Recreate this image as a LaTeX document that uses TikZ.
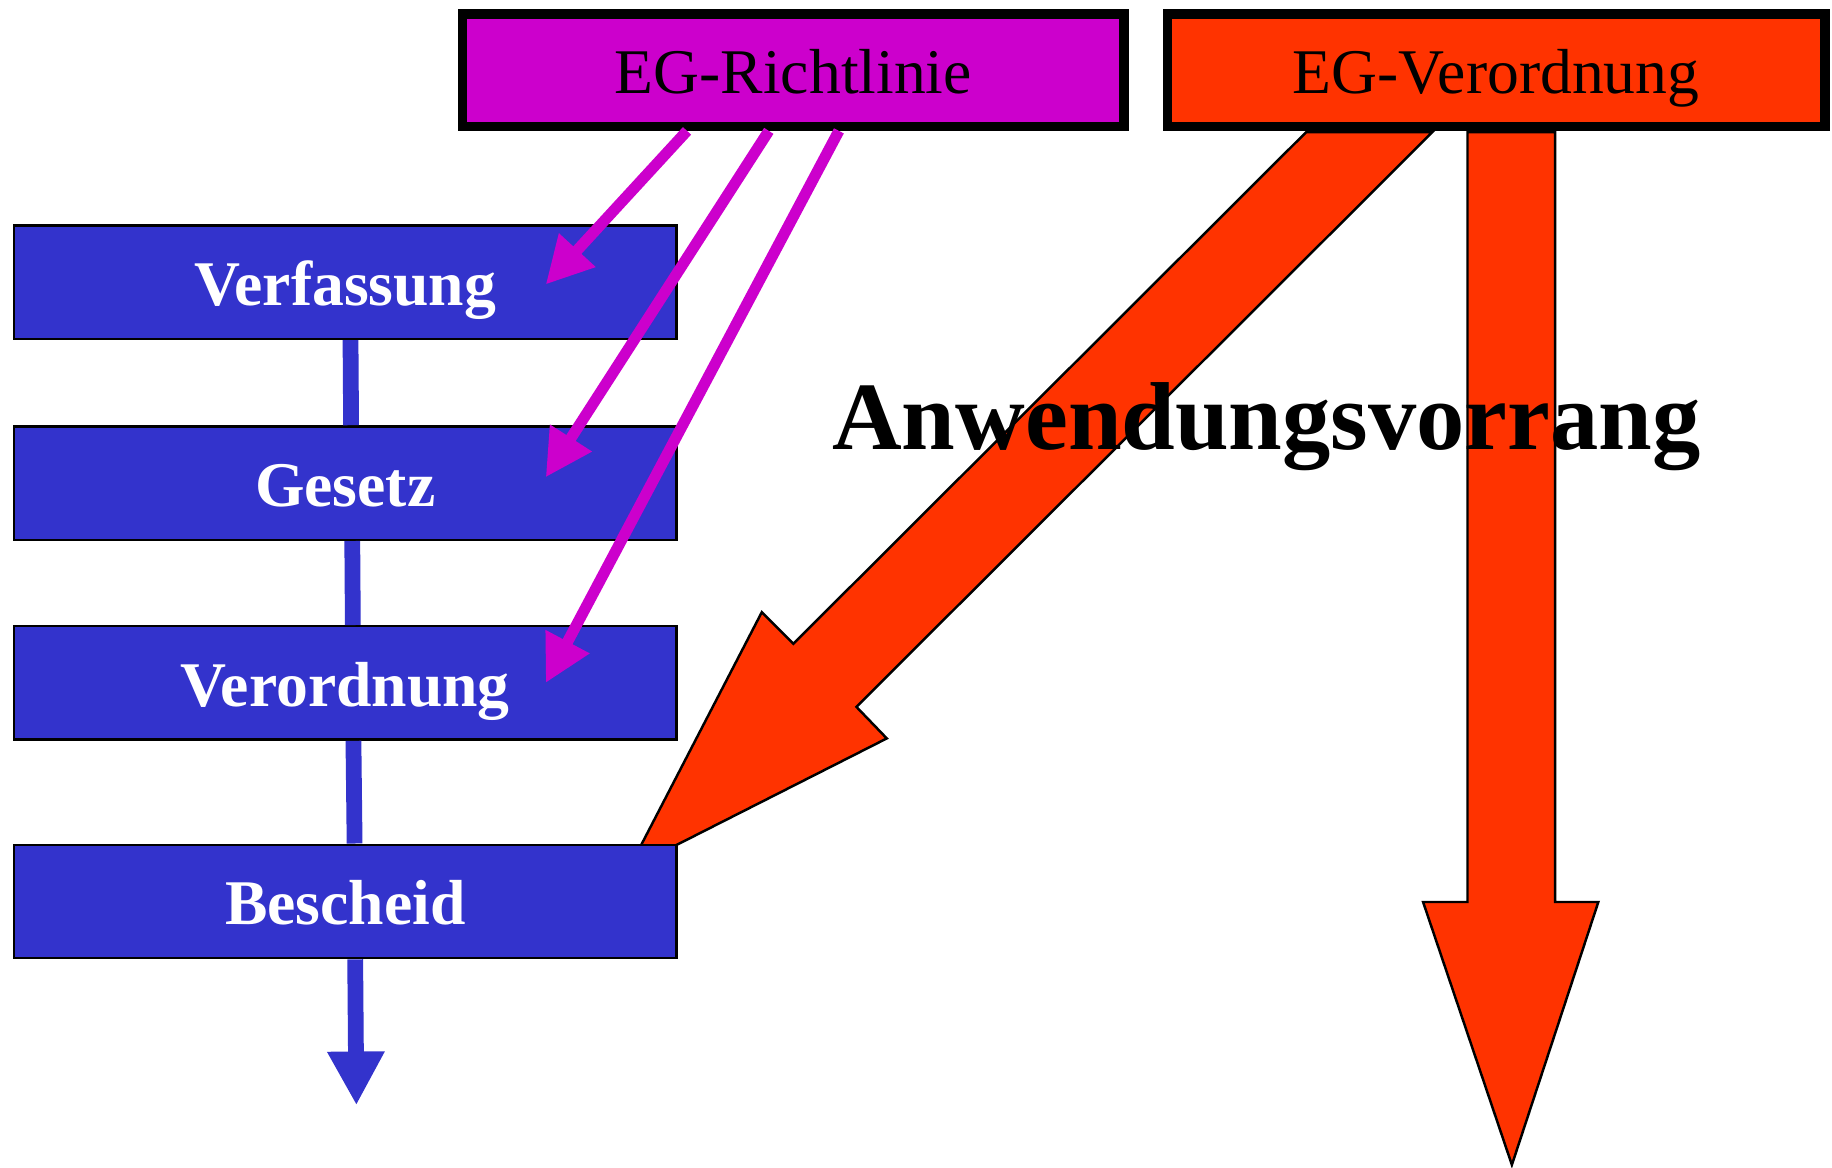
\documentclass[tikz,border=0pt]{standalone}
\usepackage{fontspec}
\setmainfont{Liberation Serif}
\usetikzlibrary{arrows.meta}
\definecolor{egmagenta}{HTML}{CC00CC}
\definecolor{egrot}{HTML}{FF3300}
\definecolor{ebeneblau}{HTML}{3333CC}
\tikzset{
  ebene/.style={draw=black, line width=0.6pt, fill=ebeneblau, text=white,
    font=\fontsize{15.5}{18}\selectfont\bfseries, inner sep=0pt,
    minimum width=5.67cm, minimum height=0.97cm, text height=0.46cm, text depth=0.06cm},
  egbox/.style={draw=black, line width=0.08cm, inner sep=0pt,
    font=\fontsize{15.5}{18}\selectfont, minimum height=0.96cm,
    text height=0.46cm, text depth=0.06cm},
  stufe/.style={ebeneblau, line width=0.135cm},
  richtpfeil/.style={egmagenta, line width=0.095cm, -{Triangle[length=0.4cm,width=0.4cm]}},
  vorrang/.style={draw=black, line width=0.6pt, fill=egrot, line join=miter}
}
\begin{document}
\begin{tikzpicture}
\useasboundingbox (0,0) rectangle (15.68,-9.99);
% Anwendungsvorrang arrows
\coordinate (spitzeA) at (5.38,-7.44);
\coordinate (spitzeB) at (12.94,-9.97);
\draw[vorrang] (11.18,-1.13) -- (6.79,-5.51) -- (6.52,-5.24) -- (spitzeA)
  -- (7.59,-6.32) -- (7.33,-6.05) -- (12.26,-1.13) -- cycle;
\draw[vorrang] (12.56,-1.13) -- (12.56,-7.72) -- (12.18,-7.72) -- (spitzeB)
  -- (13.68,-7.72) -- (13.31,-7.72) -- (13.31,-1.13) -- cycle;
% national levels
\node[ebene] (verf) at (2.955,-2.415) {Verfassung};
\node[ebene] (ges) at (2.955,-4.135) {Gesetz};
\node[ebene] (vo) at (2.955,-5.845) {Verordnung};
\node[ebene] (besch) at (2.955,-7.715) {Bescheid};
\coordinate (ende) at (3.05,-9.46);
\draw[stufe] ([xshift=0.045cm]verf.south) -- ([xshift=0.05cm]ges.north);
\draw[stufe] ([xshift=0.06cm]ges.south) -- ([xshift=0.065cm]vo.north);
\draw[stufe] ([xshift=0.07cm]vo.south) -- ([xshift=0.08cm]besch.north);
\draw[stufe, -{Triangle[length=0.46cm,width=0.46cm]}] ([xshift=0.085cm]besch.south) -- (ende);
% EG law
\node[egbox, fill=egmagenta, minimum width=5.66cm] (rl) at (6.79,-0.60) {EG-Richtlinie};
\node[egbox, fill=egrot, minimum width=5.63cm] (egvo) at (12.805,-0.60) {EG-Verordnung};
\draw[richtpfeil] ([xshift=-0.91cm]rl.south) -- ([xshift=-1.13cm,yshift=-0.02cm]verf.east);
\draw[richtpfeil] ([xshift=-0.21cm]rl.south) -- ([xshift=-1.13cm,yshift=0.05cm]ges.east);
\draw[richtpfeil] ([xshift=0.39cm]rl.south) -- ([xshift=-1.13cm]vo.east);
\node[anchor=base, font=\fontsize{23.5}{28}\selectfont\bfseries] (anw) at (10.84,-3.85) {Anwendungsvorrang};
\end{tikzpicture}
\end{document}
